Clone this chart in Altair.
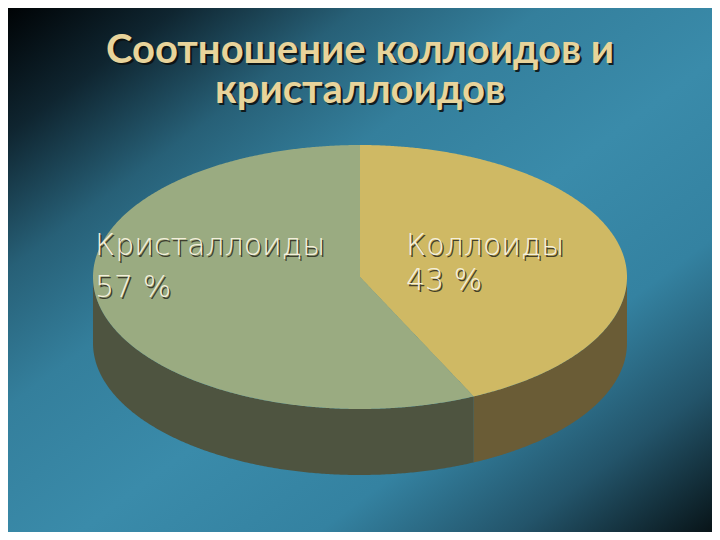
import numpy as np
import pandas as pd
import altair as alt

# ---- data ----
categories = ["Коллоиды", "Кристаллоиды"]
shares = [43, 57]
title_lines = ["Соотношение коллоидов и", "кристаллоидов"]

# ---- style ----
top_colors = ["#cfb964", "#9aab81"]
side_colors = ["#6a5c36", "#4e5440"]
W, H = 704, 524
CX, CY, RX, RY = 352, 269, 267, 132
DEPTH = 0.5  # cylinder height in units of RY

xdom = [-CX / RX, (W - CX) / RX]
ydom = [-(H - CY) / RY, CY / RY]

# ---- geometry derived from the shares (unit ellipse, angle clockwise from top) ----
a_end = 2 * np.pi * shares[0] / sum(shares)
xe, ye = float(np.sin(a_end)), float(np.cos(a_end))
phi_e = float(np.arcsin(xe))

rows = []
def add(piece, xs, ys, y2s):
    for x, y, y2 in zip(xs, ys, y2s):
        rows.append({"piece": piece, "x": float(x), "y": float(y), "y2": float(y2)})

# slice 0 (first share) top face: x from 0 to 1
ph = np.unique(np.append(np.linspace(0, np.pi / 2, 240), phi_e))
xs = np.sin(ph)
up = np.cos(ph)
lo = np.where(xs <= xe, ye * xs / xe, -np.cos(ph))
add("top0", xs, up, lo)

# slice 1 top face (left half + wedge between centre and end radius)
ph1 = np.linspace(-np.pi / 2, 0, 240)
ph2 = np.linspace(0, phi_e, 80)
xs = np.concatenate([np.sin(ph1), np.sin(ph2) + np.r_[1e-7, np.zeros(len(ph2) - 1)]])
up = np.concatenate([np.cos(ph1), ye * np.sin(ph2) / xe])
lo = np.concatenate([-np.cos(ph1), -np.cos(ph2)])
add("top1", xs, up, lo)

# side walls (front half of the cylinder)
ph = np.linspace(-np.pi / 2, phi_e, 260)
add("side1", np.sin(ph), -np.cos(ph), -np.cos(ph) - DEPTH)
ph = np.linspace(phi_e, np.pi / 2, 200)
add("side0", np.sin(ph), -np.cos(ph), -np.cos(ph) - DEPTH)

geo = pd.DataFrame(rows)

xs_ = alt.Scale(domain=xdom, nice=False, zero=False)
ys_ = alt.Scale(domain=ydom, nice=False, zero=False)

def piece(name, color):
    d = geo[geo.piece == name].reset_index(drop=True)
    return alt.Chart(d).mark_area(color=color, interpolate="linear").encode(
        x=alt.X("x:Q", scale=xs_, axis=None),
        y=alt.Y("y:Q", scale=ys_, axis=None),
        y2="y2:Q",
    )

bg = alt.Chart(pd.DataFrame({"a": [0]})).mark_rect(
    color=alt.Gradient(
        gradient="linear", x1=0, y1=0, x2=1, y2=1,
        stops=[
            alt.GradientStop(color="#000305", offset=0),
            alt.GradientStop(color="#0f2530", offset=0.12),
            alt.GradientStop(color="#276077", offset=0.25),
            alt.GradientStop(color="#347f9c", offset=0.38),
            alt.GradientStop(color="#3a8baa", offset=0.55),
            alt.GradientStop(color="#3482a1", offset=0.72),
            alt.GradientStop(color="#23546a", offset=0.86),
            alt.GradientStop(color="#081418", offset=1),
        ],
    )
).encode(x=alt.value(0), x2=alt.value(W), y=alt.value(0), y2=alt.value(H))

def text(t, x, y, size, color, font, weight, align="left", dx=0, dy=0, opacity=1):
    return alt.Chart(pd.DataFrame({"t": [t]})).mark_text(
        align=align, baseline="alphabetic", fontSize=size, font=font,
        fontWeight=weight, color=color, dx=dx, dy=dy, opacity=opacity
    ).encode(x=alt.value(x), y=alt.value(y), text="t:N")

def shadowed(t, x, y, size, color, shadow, font, weight, align="left", off=1.5):
    return [
        text(t, x, y, size, shadow, font, weight, align, dx=off, dy=off, opacity=0.85),
        text(t, x, y, size, color, font, weight, align),
    ]

layers = [bg]
layers.append(piece("side1", side_colors[1]))
layers.append(piece("side0", side_colors[0]))
layers.append(piece("top1", top_colors[1]))
layers.append(piece("top0", top_colors[0]))

lab_font = "DejaVu Sans"
lab_pos = [(398, 247, 282), (87, 247, 289)]
for k, (c, s) in enumerate(zip(categories, shares)):
    x0, y1, y2 = lab_pos[k]
    layers += shadowed(c, x0, y1, 30, "#f4efdc", "#2e2c20", lab_font, 200)
    layers += shadowed(f"{s} %", x0, y2, 30, "#f4efdc", "#2e2c20", lab_font, 200)

layers += shadowed(title_lines[0], 352, 55, 40, "#e8d49b", "#0c0f0c", "Lato", "bold", "center", off=2)
layers += shadowed(title_lines[1], 352, 95, 40, "#e8d49b", "#0c0f0c", "Lato", "bold", "center", off=2)

chart = alt.layer(*layers).properties(
    width=W, height=H, padding=0, background="#1d4a5c"
).configure_view(stroke=None)

chart.save("out.html", embed_options={"renderer": "svg", "actions": False})
